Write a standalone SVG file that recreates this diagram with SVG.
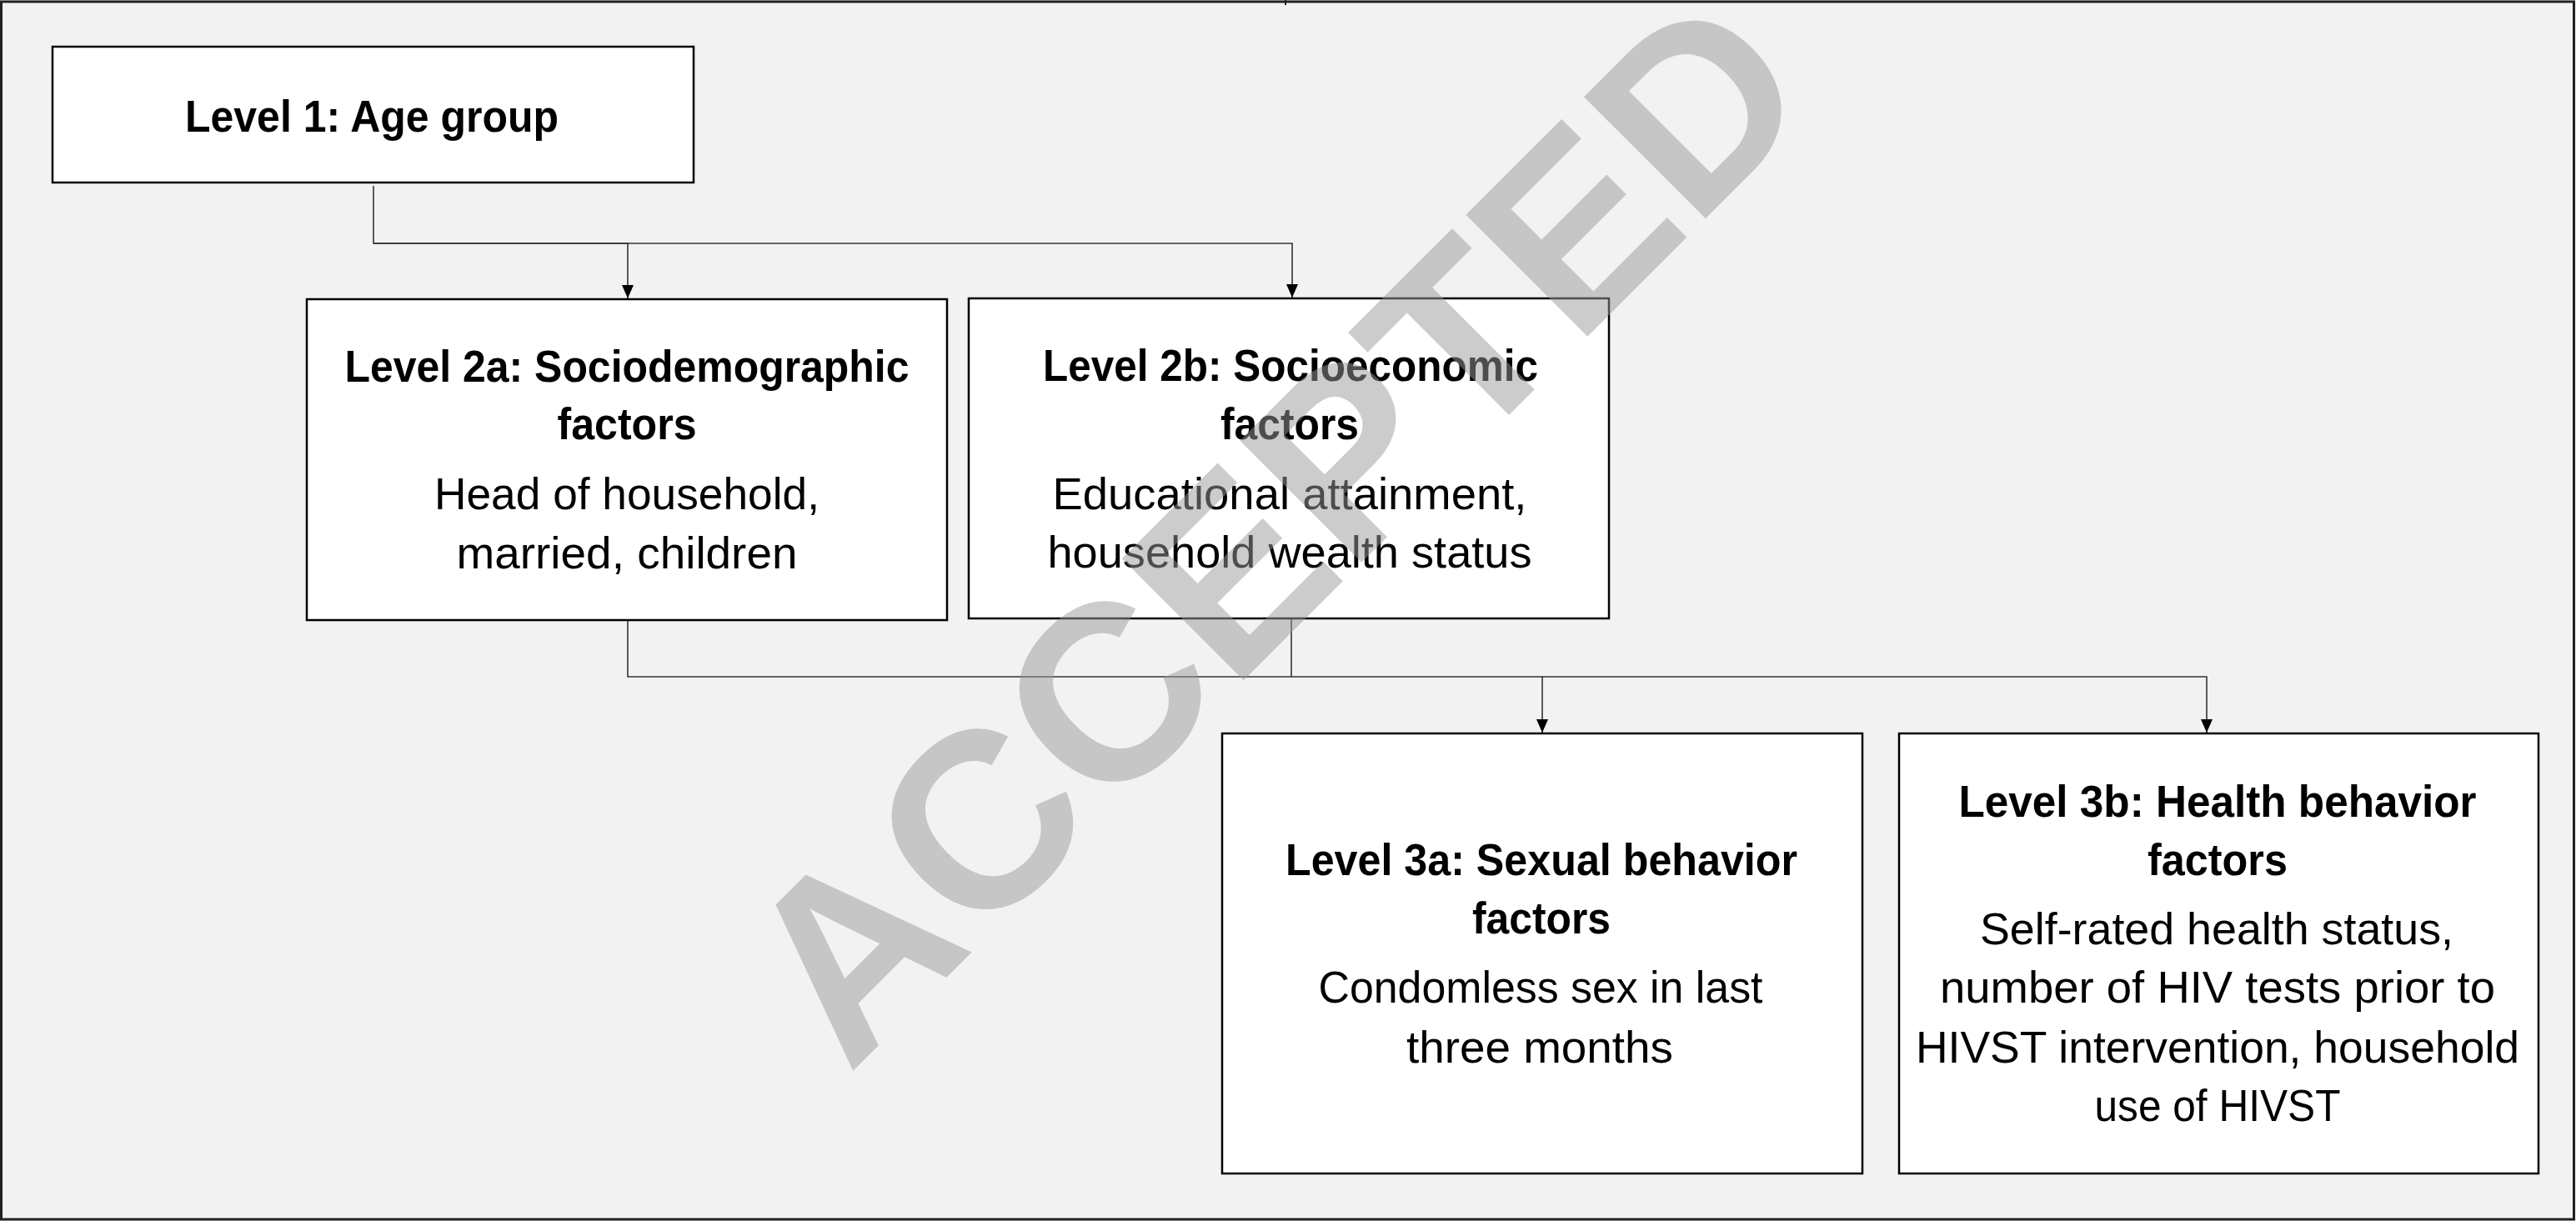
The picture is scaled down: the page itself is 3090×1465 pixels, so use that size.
<svg xmlns="http://www.w3.org/2000/svg" width="3090" height="1465" viewBox="0 0 3090 1465">
<style>
.box{fill:#ffffff;stroke:#000000;stroke-width:2.5}
.t{font-family:"Liberation Sans",Arial,sans-serif;font-size:54px;fill:#000000;text-anchor:middle}
.b{font-weight:bold}
.c{fill:none;stroke:#333333;stroke-width:1.6}
.wm{font-family:"Liberation Sans",Arial,sans-serif;font-weight:bold;font-size:300px;fill:#999999;fill-opacity:0.5}
</style>
<defs>
<marker id="arr" markerUnits="userSpaceOnUse" markerWidth="16" markerHeight="16" viewBox="0 0 16 16" refX="16" refY="7" orient="auto">
<path d="M0,0 L16,7 L0,14 z" fill="#000000"/>
</marker>
</defs>
<rect x="0" y="0" width="3090" height="1465" fill="#f2f2f2"/>
<rect x="1.5" y="2" width="3086" height="1461" fill="none" stroke="#222222" stroke-width="3"/>
<line x1="1542" y1="0" x2="1542" y2="6" stroke="#222222" stroke-width="2"/>

<g id="connectors">
<path class="c" d="M448,223 V292 H753 V358" marker-end="url(#arr)"/>
<path class="c" d="M448,292 H1550 V357" marker-end="url(#arr)"/>
<path class="c" d="M753,744 V812 H1850 V879" marker-end="url(#arr)"/>
<path class="c" d="M1850,812 H2647 V879" marker-end="url(#arr)"/>
<path class="c" d="M1549,742 V812"/>
</g>

<g id="level1">
<rect class="box" x="63" y="56" width="769" height="163"/>
<text class="t b" x="446" y="158" textLength="448" lengthAdjust="spacingAndGlyphs">Level 1: Age group</text>
</g>

<g id="level2a">
<rect class="box" x="368" y="359" width="768" height="385"/>
<text class="t b" x="752" y="458" textLength="677" lengthAdjust="spacingAndGlyphs">Level 2a: Sociodemographic</text>
<text class="t b" x="752" y="527" textLength="167" lengthAdjust="spacingAndGlyphs">factors</text>
<text class="t" x="752" y="611" textLength="462" lengthAdjust="spacingAndGlyphs">Head of household,</text>
<text class="t" x="752" y="682" textLength="409" lengthAdjust="spacingAndGlyphs">married, children</text>
</g>

<g id="level2b">
<rect class="box" x="1162" y="358" width="768" height="384"/>
<text class="t b" x="1548" y="457" textLength="594" lengthAdjust="spacingAndGlyphs">Level 2b: Socioeconomic</text>
<text class="t b" x="1547" y="527" textLength="166" lengthAdjust="spacingAndGlyphs">factors</text>
<text class="t" x="1547" y="611" textLength="569" lengthAdjust="spacingAndGlyphs">Educational attainment,</text>
<text class="t" x="1547" y="681" textLength="581" lengthAdjust="spacingAndGlyphs">household wealth status</text>
</g>

<g id="level3a">
<rect class="box" x="1466" y="880" width="768" height="528"/>
<text class="t b" x="1849" y="1050" textLength="614" lengthAdjust="spacingAndGlyphs">Level 3a: Sexual behavior</text>
<text class="t b" x="1849" y="1120" textLength="166" lengthAdjust="spacingAndGlyphs">factors</text>
<text class="t" x="1848" y="1203" textLength="533" lengthAdjust="spacingAndGlyphs">Condomless sex in last</text>
<text class="t" x="1847" y="1275" textLength="320" lengthAdjust="spacingAndGlyphs">three months</text>
</g>

<g id="level3b">
<rect class="box" x="2278" y="880" width="767" height="528"/>
<text class="t b" x="2660" y="980" textLength="621" lengthAdjust="spacingAndGlyphs">Level 3b: Health behavior</text>
<text class="t b" x="2660" y="1050" textLength="168" lengthAdjust="spacingAndGlyphs">factors</text>
<text class="t" x="2659" y="1133" textLength="568" lengthAdjust="spacingAndGlyphs">Self-rated health status,</text>
<text class="t" x="2660" y="1203" textLength="666" lengthAdjust="spacingAndGlyphs">number of HIV tests prior to</text>
<text class="t" x="2660" y="1275" textLength="724" lengthAdjust="spacingAndGlyphs">HIVST intervention, household</text>
<text class="t" x="2660" y="1345" textLength="295" lengthAdjust="spacingAndGlyphs">use of HIVST</text>
</g>

<text class="wm" transform="translate(1018,1290) rotate(-45)">ACCEPTED</text>
</svg>
